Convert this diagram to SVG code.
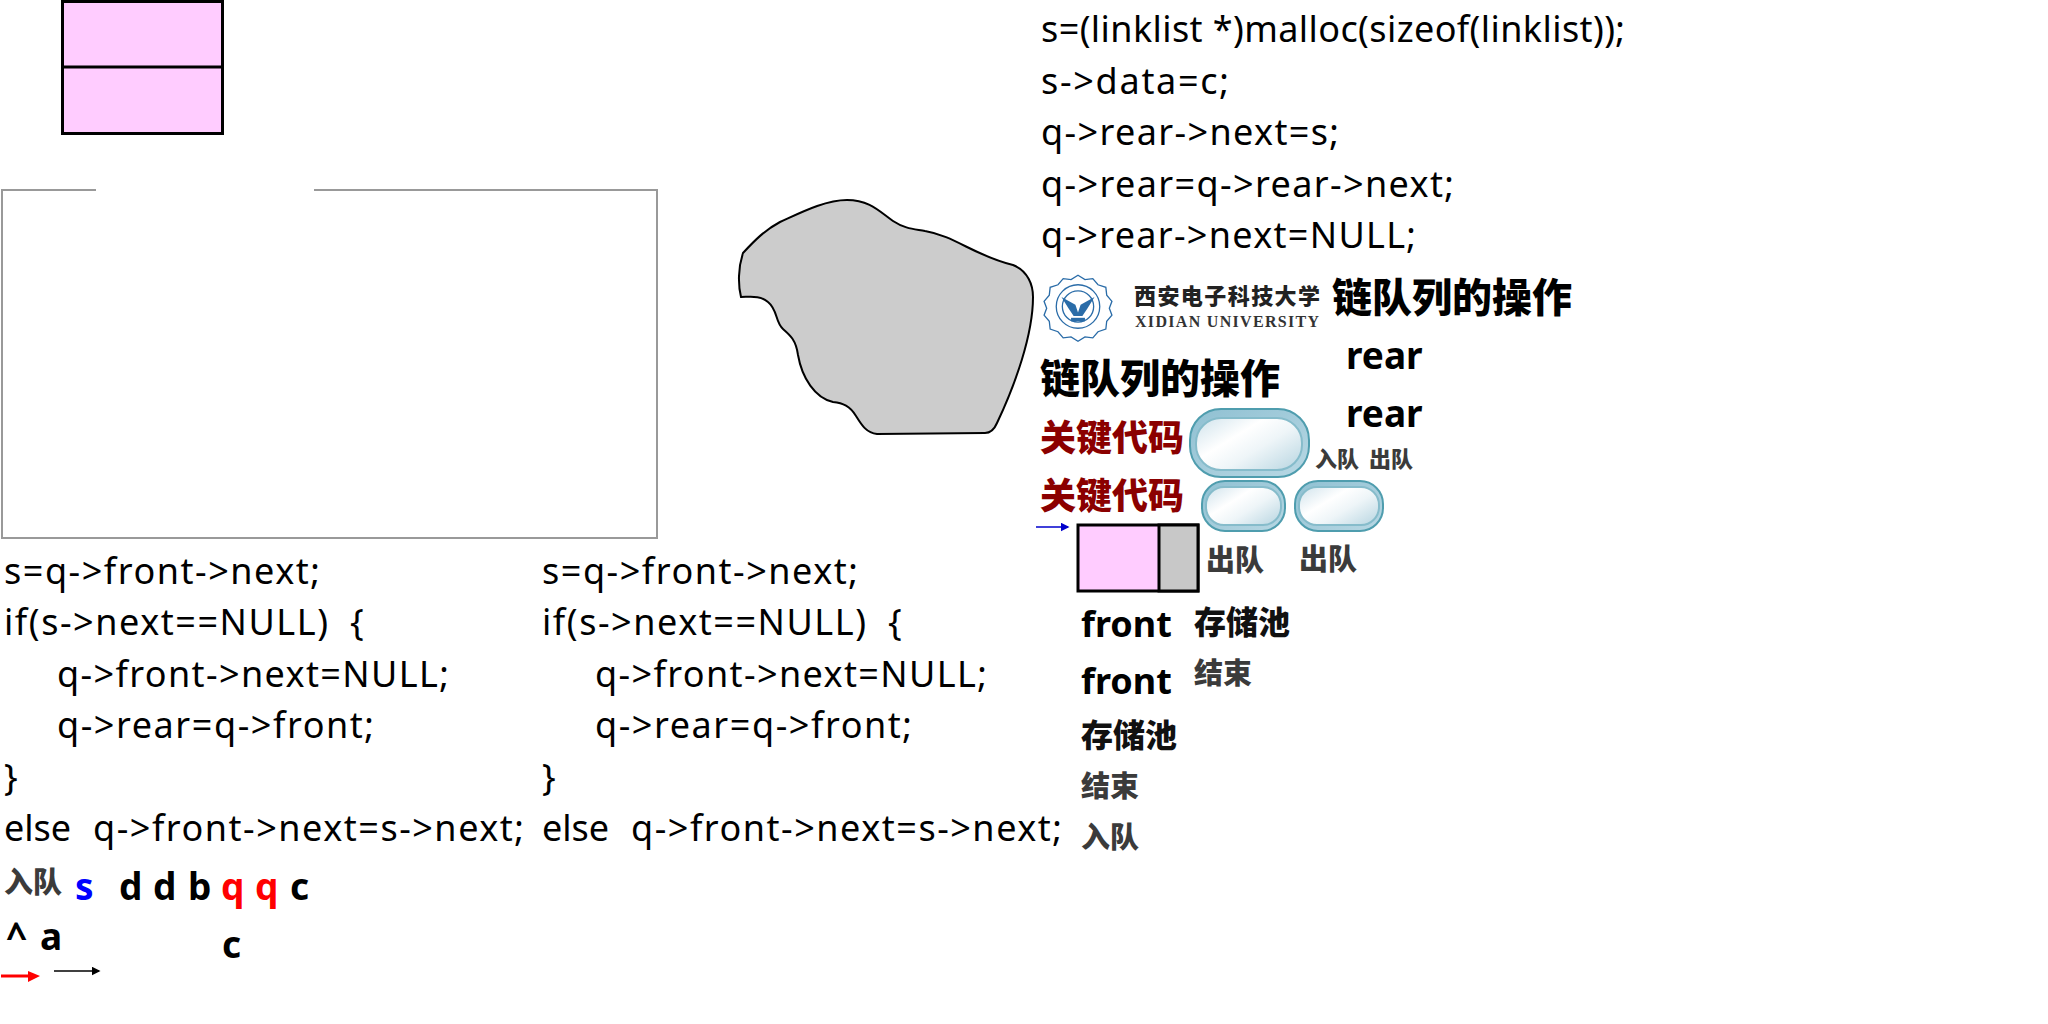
<svg xmlns="http://www.w3.org/2000/svg" width="2048" height="1024" viewBox="0 0 2048 1024">
<style>
text{font-family:"Noto Sans","Noto Sans CJK SC",sans-serif;fill:#000}
.code{font-size:36px}
.b{font-weight:700;font-size:37px}
.f{font-weight:700;font-size:36px}
.t{font-family:"Noto Sans CJK SC",sans-serif;font-weight:900;font-size:40px}
.k{font-family:"Noto Sans CJK SC",sans-serif;font-weight:900;font-size:36px;fill:#8b0000}
.g{font-family:"Noto Sans CJK SC",sans-serif;font-weight:900;fill:#3b3b3b}
.box{fill:#fcf;stroke:#000;stroke-width:3}
.pill{fill:url(#pg);stroke:#4f9dae;stroke-width:2}
.pin{fill:url(#pw);stroke:#86bccb;stroke-width:2}
</style>
<defs>
<linearGradient id="pg" x1="0" y1="0" x2="1" y2="1"><stop offset="0" stop-color="#8fc0d2"/><stop offset="1" stop-color="#b8d8e4"/></linearGradient>
<linearGradient id="pw" x1="0" y1="0.1" x2="1" y2="0.9"><stop offset="0" stop-color="#d5e6ee"/><stop offset=".35" stop-color="#fff"/><stop offset=".6" stop-color="#eef5f8"/><stop offset="1" stop-color="#bcd8e3"/></linearGradient>
<marker id="ak" markerWidth="6" markerHeight="6" refX="5" refY="3" orient="auto"><path d="M0 0L6 3L0 6z" fill="#000"/></marker>
<marker id="ab" markerWidth="6" markerHeight="6" refX="5" refY="3" orient="auto"><path d="M0 0L6 3L0 6z" fill="#00c"/></marker>
</defs>
<g id="memory-node"><rect class="box" x="62.500" y="1.500" width="160" height="132"/><line x1="62" y1="67" x2="224" y2="67" stroke="#000" stroke-width="3"/></g>
<g id="frame"><path d="M96 190H2V538H657V190H314" fill="none" stroke="#999" stroke-width="2"/></g>
<g id="pool-blob"><path d="M741 297C738 285 738 268 743 253C755 240 765 230 780 222C800 213 825 200 847 200C870 200 880 212 893 221C905 229 915 229 925 231C955 236 975 256 1013 265C1028 271 1033 285 1033 297C1033 335 1015 385 997 423C994 430 990 433 985 433L877 434C866 433 861 424 856 416C850 406 843 403 833 402C815 398 802 378 798 355C796 340 790 335 783 329C775 322 778 310 768 302C760 295 750 297 741 297Z" fill="#ccc" stroke="#000" stroke-width="2"/></g>
<g id="enqueue-code">
<text class="code" x="1041" y="42" textLength="584">s=(linklist *)malloc(sizeof(linklist));</text>
<text class="code" x="1041" y="94" textLength="188">s-&gt;data=c;</text>
<text class="code" x="1041" y="145" textLength="298">q-&gt;rear-&gt;next=s;</text>
<text class="code" x="1041" y="197" textLength="413">q-&gt;rear=q-&gt;rear-&gt;next;</text>
<text class="code" x="1041" y="248" textLength="375">q-&gt;rear-&gt;next=NULL;</text>
</g>
<g id="dequeue-code-1">
<text class="code" x="4" y="584" textLength="316">s=q-&gt;front-&gt;next;</text>
<text class="code" x="4" y="635"><tspan textLength="324">if(s-&gt;next==NULL)</tspan><tspan x="350">{</tspan></text>
<text class="code" x="57" y="687" textLength="392">q-&gt;front-&gt;next=NULL;</text>
<text class="code" x="57" y="738" textLength="317">q-&gt;rear=q-&gt;front;</text>
<text class="code" x="4" y="790">}</text>
<text class="code" x="4" y="841">else<tspan x="93" textLength="431">q-&gt;front-&gt;next=s-&gt;next;</tspan></text>
</g>
<g id="dequeue-code-2">
<text class="code" x="542" y="584" textLength="316">s=q-&gt;front-&gt;next;</text>
<text class="code" x="542" y="635"><tspan textLength="324">if(s-&gt;next==NULL)</tspan><tspan x="888">{</tspan></text>
<text class="code" x="595" y="687" textLength="392">q-&gt;front-&gt;next=NULL;</text>
<text class="code" x="595" y="738" textLength="317">q-&gt;rear=q-&gt;front;</text>
<text class="code" x="542" y="790">}</text>
<text class="code" x="542" y="841">else<tspan x="631" textLength="431">q-&gt;front-&gt;next=s-&gt;next;</tspan></text>
</g>
<g id="logo">
<g transform="translate(1078 306.500) scale(.87) translate(-1077 -307)">
<path d="M1077 271l8 5 9-1 6 7 9 3 1 9 6 7-3 8 3 8-6 7-1 9-9 3-6 7-9-1-8 5-8-5-9 1-6-7-9-3-1-9-6-7 3-8-3-8 6-7 1-9 9-3 6-7 9 1z" fill="#fff" stroke="#2a6ca8" stroke-width="1.500"/>
<circle cx="1077" cy="307" r="25" fill="none" stroke="#2a6ca8" stroke-width="1.500"/>
<circle cx="1077" cy="307" r="18" fill="#fff" stroke="#2a6ca8" stroke-width="1.500"/>
<path d="M1058 296l16 9 3 9 3-9 16-9-8 13-6 9h-10l-6-9z" fill="#2a6ca8"/>
<path d="M1069 320h16v4h-16z" fill="#2a6ca8"/>
</g>
<text x="1134" y="304" style="font-family:'Noto Sans CJK SC',serif;font-size:22px;font-weight:900;fill:#222" textLength="186">西安电子科技大学</text>
<text x="1135" y="327" style="font-family:'Liberation Serif',serif;font-size:16px;font-weight:700;fill:#333" textLength="184">XIDIAN UNIVERSITY</text>
</g>
<g id="titles">
<text class="t" x="1332" y="312">链队列的操作</text>
<text class="t" x="1040" y="393">链队列的操作</text>
<text class="k" x="1040" y="451">关键代码</text>
<text class="k" x="1040" y="509">关键代码</text>
</g>
<g id="pill-large"><rect class="pill" x="1190" y="409" width="119" height="68" rx="31"/><rect class="pin" x="1196" y="418" width="106" height="52" rx="25"/></g>
<g id="pill-small-1"><rect class="pill" x="1202" y="481" width="83" height="50" rx="23"/><rect class="pin" x="1206" y="487" width="75" height="38" rx="18"/></g>
<g id="pill-small-2"><rect class="pill" x="1295" y="481" width="88" height="50" rx="23"/><rect class="pin" x="1299" y="487" width="80" height="38" rx="18"/></g>
<g id="memory-node-2"><rect class="box" x="1078" y="525" width="120" height="66"/><rect x="1159" y="525" width="39" height="66" fill="#c8c8c8" stroke="#000" stroke-width="3"/></g>
<g id="labels">
<text class="b" x="1346" y="369">rear</text>
<text class="b" x="1346" y="427">rear</text>
<text class="f" x="1081" y="637">front</text>
<text class="f" x="1081" y="694">front</text>
<text class="g" x="1315" y="467" font-size="22">入队</text>
<text class="g" x="1369" y="467" font-size="22">出队</text>
<text class="g" x="1206" y="571" font-size="29">出队</text>
<text class="g" x="1299" y="570" font-size="29">出队</text>
<text class="g" x="1194" y="634" font-size="32" style="fill:#111">存储池</text>
<text class="g" x="1194" y="684" font-size="29">结束</text>
<text class="g" x="1081" y="747" font-size="32" style="fill:#111">存储池</text>
<text class="g" x="1081" y="797" font-size="29">结束</text>
<text class="g" x="1081" y="848" font-size="29">入队</text>
<text class="g" x="4" y="893" font-size="29">入队</text>
<text class="b" x="75" y="900" style="fill:#00f">s</text>
<text class="b" x="119" y="900">d</text>
<text class="b" x="153" y="900">d</text>
<text class="b" x="188" y="900">b</text>
<text class="b" x="221" y="900" style="fill:#f00">q</text>
<text class="b" x="255" y="900" style="fill:#f00">q</text>
<text class="b" x="290" y="900">c</text>
<text class="b" x="222" y="958">c</text>
<text class="b" x="40" y="950">a</text>
<text class="b" x="6" y="950">^</text>
</g>
<g id="connectors">
<line x1="1036" y1="527" x2="1068" y2="527" stroke="#00c" stroke-width="1.500" marker-end="url(#ab)"/>
<line x1="54" y1="971" x2="99" y2="971" stroke="#000" stroke-width="1.500" marker-end="url(#ak)"/>
<path d="M1 976H28" stroke="#f00" stroke-width="3" fill="none"/><path d="M28 971L40 976L28 982z" fill="#f00"/>
</g>
</svg>
